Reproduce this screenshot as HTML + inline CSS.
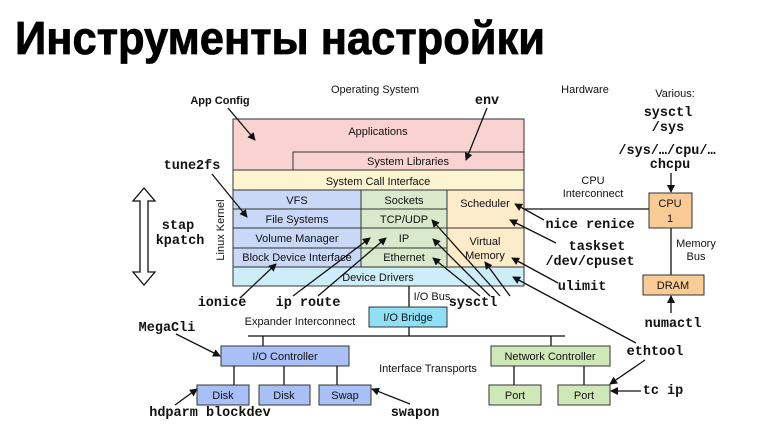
<!DOCTYPE html>
<html><head><meta charset="utf-8"><style>
html,body{margin:0;padding:0;background:#fff;}
svg{display:block}
.s{font-family:"Liberation Sans",sans-serif;font-size:11px;fill:#111;text-anchor:middle}
.m{font-family:"Liberation Mono",monospace;font-size:13.5px;font-weight:bold;fill:#111;text-anchor:middle}
.b{font-family:"Liberation Sans",sans-serif;font-size:11px;font-weight:bold;fill:#111;text-anchor:middle}
line,path.l{stroke:#111;stroke-width:1.3;fill:none}
rect{stroke:#333;stroke-width:1}
</style></head><body>
<svg width="780" height="437" viewBox="0 0 780 437" xmlns="http://www.w3.org/2000/svg">
<defs><marker id="a" markerWidth="8" markerHeight="8" refX="7" refY="4" orient="auto" markerUnits="userSpaceOnUse"><path d="M0,0 L8,4 L0,8 z" fill="#111"/></marker></defs>
<text x="15" y="54" font-family="Liberation Sans, sans-serif" font-weight="bold" font-size="46" textLength="530" lengthAdjust="spacingAndGlyphs" fill="#000" stroke="#000" stroke-width="0.8">Инструменты настройки</text>

<rect x="233" y="119" width="291" height="51" fill="#f9d2d2"/>
<rect x="293" y="152" width="231" height="18" fill="#f9d2d2"/>
<rect x="233" y="170" width="291" height="20" fill="#fdf5d2"/>
<rect x="233" y="190" width="128" height="19" fill="#c9d8f6"/>
<rect x="233" y="209" width="128" height="19" fill="#c9d8f6"/>
<rect x="233" y="228" width="128" height="20" fill="#c9d8f6"/>
<rect x="233" y="248" width="128" height="19" fill="#c9d8f6"/>
<rect x="361" y="190" width="86" height="19" fill="#d8e9cc"/>
<rect x="361" y="209" width="86" height="19" fill="#d8e9cc"/>
<rect x="361" y="228" width="86" height="20" fill="#d8e9cc"/>
<rect x="361" y="248" width="86" height="19" fill="#d8e9cc"/>
<rect x="447" y="190" width="77" height="38" fill="#fdebc9"/>
<rect x="447" y="228" width="77" height="39" fill="#fdebc9"/>
<rect x="233" y="267" width="291" height="19" fill="#cdeef8"/>
<text class="s" x="378" y="135">Applications</text>
<text class="s" x="408" y="165">System Libraries</text>
<text class="s" x="378" y="185">System Call Interface</text>
<text class="s" x="297" y="204">VFS</text>
<text class="s" x="297" y="223">File Systems</text>
<text class="s" x="297" y="242">Volume Manager</text>
<text class="s" x="297" y="261">Block Device Interface</text>
<text class="s" x="404" y="204">Sockets</text>
<text class="s" x="404" y="223">TCP/UDP</text>
<text class="s" x="404" y="242">IP</text>
<text class="s" x="404" y="261">Ethernet</text>
<text class="s" x="485" y="207">Scheduler</text>
<text class="s" x="485" y="245">Virtual</text>
<text class="s" x="485" y="259">Memory</text>
<text class="s" x="378" y="281">Device Drivers</text>
<text class="s" x="0" y="0" transform="translate(224,230) rotate(-90)">Linux Kernel</text>

<line x1="409" y1="286" x2="409" y2="307"/>
<rect x="369" y="307" width="78" height="20" fill="#8fdff5"/>
<text class="s" x="408" y="321">I/O Bridge</text>
<text class="s" x="432" y="300">I/O Bus</text>
<line x1="248" y1="336" x2="565" y2="336"/>
<line x1="409" y1="327" x2="409" y2="336"/>
<line x1="263" y1="336" x2="263" y2="346"/>
<line x1="551" y1="336" x2="551" y2="346"/>
<rect x="221" y="346" width="128" height="20" fill="#a8c0f5"/>
<text class="s" x="285" y="360">I/O Controller</text>
<line x1="234" y1="366" x2="234" y2="385"/><line x1="284" y1="366" x2="284" y2="385"/><line x1="337" y1="366" x2="337" y2="385"/>
<rect x="197" y="385" width="52" height="20" fill="#a8c0f5"/><text class="s" x="223" y="399">Disk</text>
<rect x="259" y="385" width="51" height="20" fill="#a8c0f5"/><text class="s" x="284" y="399">Disk</text>
<rect x="319" y="385" width="52" height="20" fill="#a8c0f5"/><text class="s" x="345" y="399">Swap</text>
<rect x="491" y="346" width="119" height="20" fill="#d0e8b8"/>
<text class="s" x="550" y="360">Network Controller</text>
<line x1="514" y1="366" x2="514" y2="385"/><line x1="584" y1="366" x2="584" y2="385"/>
<rect x="489" y="385" width="52" height="20" fill="#d0e8b8"/><text class="s" x="515" y="399">Port</text>
<rect x="558" y="385" width="52" height="20" fill="#d0e8b8"/><text class="s" x="584" y="399">Port</text>
<text class="s" x="300" y="325">Expander Interconnect</text>
<text class="s" x="428" y="372">Interface Transports</text>

<line x1="524" y1="209" x2="649" y2="209"/>
<rect x="649" y="193" width="43" height="35" fill="#f9cb95"/>
<text class="s" x="670" y="207">CPU</text><text class="s" x="670" y="222">1</text>
<line x1="671" y1="228" x2="671" y2="275"/>
<rect x="643" y="275" width="61" height="20" fill="#f9cb95"/>
<text class="s" x="673" y="289">DRAM</text>
<text class="s" x="593" y="184">CPU</text><text class="s" x="593" y="197">Interconnect</text>
<text class="s" x="696" y="247">Memory</text><text class="s" x="696" y="260">Bus</text>
<text class="s" x="375" y="93">Operating System</text>
<text class="s" x="585" y="93">Hardware</text>
<text class="s" x="675" y="97">Various:</text>

<text class="b" x="220" y="104">App Config</text>
<text class="m" x="487" y="104">env</text>
<text class="m" x="668" y="116">sysctl</text>
<text class="m" x="668" y="131">/sys</text>
<text class="m" x="667" y="154">/sys/…/cpu/…</text>
<text class="m" x="670" y="168">chcpu</text>
<text class="m" x="590" y="228">nice renice</text>
<text class="m" x="597" y="250">taskset</text>
<text class="m" x="590" y="265">/dev/cpuset</text>
<text class="m" x="582" y="290">ulimit</text>
<text class="m" x="673" y="327">numactl</text>
<text class="m" x="655" y="355">ethtool</text>
<text class="m" x="663" y="394">tc ip</text>
<text class="m" x="192" y="169">tune2fs</text>
<text class="m" x="178" y="229">stap</text>
<text class="m" x="180" y="244">kpatch</text>
<text class="m" x="222" y="306">ionice</text>
<text class="m" x="308" y="306">ip route</text>
<text class="m" x="473" y="306">sysctl</text>
<text class="m" x="167" y="331">MegaCli</text>
<text class="m" x="210" y="416">hdparm blockdev</text>
<text class="m" x="415" y="416">swapon</text>

<path d="M144,188 L133,201 L140,201 L140,272 L133,272 L144,285 L155,272 L148,272 L148,201 L155,201 Z" fill="#fff" stroke="#111" stroke-width="1.3"/>

<g marker-end="url(#a)">
<line x1="228" y1="108" x2="255" y2="140"/>
<line x1="487" y1="108" x2="466" y2="160"/>
<line x1="212" y1="174" x2="247" y2="217"/>
<line x1="240" y1="298" x2="276" y2="264"/>
<line x1="293" y1="296" x2="370" y2="238"/>
<line x1="318" y1="296" x2="386" y2="238"/>
<line x1="480" y1="296" x2="433" y2="258"/>
<line x1="490" y1="296" x2="433" y2="239"/>
<line x1="500" y1="296" x2="432" y2="220"/>
<line x1="510" y1="296" x2="485" y2="262"/>
<line x1="544" y1="220" x2="515" y2="204"/>
<line x1="556" y1="243" x2="510" y2="220"/>
<line x1="558" y1="283" x2="512" y2="258"/>
<line x1="636" y1="343" x2="513" y2="277"/>
<line x1="645" y1="360" x2="610" y2="384"/>
<line x1="671" y1="173" x2="671" y2="192"/>
<line x1="671" y1="313" x2="671" y2="296"/>
<line x1="641" y1="391" x2="611" y2="391"/>
<line x1="176" y1="334" x2="220" y2="356"/>
<line x1="175" y1="405" x2="197" y2="389"/>
<line x1="410" y1="404" x2="372" y2="389"/>
</g>
</svg>
</body></html>
